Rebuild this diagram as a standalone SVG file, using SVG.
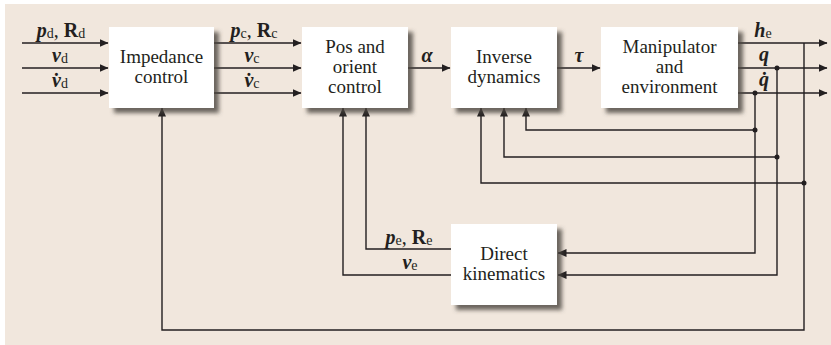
<svg xmlns="http://www.w3.org/2000/svg" width="831" height="345" viewBox="0 0 831 345">
<defs>
<style>
.bg{fill:#F1E7DD}
.box{fill:#FFFFFF;filter:url(#sh)}
.t{font-family:"Liberation Serif","Times New Roman",serif;font-size:19px;fill:#231F20;text-anchor:middle}
.m{font-family:"Liberation Serif","Times New Roman",serif;font-size:20px;fill:#231F20;text-anchor:middle}
.bi{font-weight:bold;font-style:italic}
.b{font-weight:bold}
.s{font-size:14px}
.ln{fill:none;stroke:#231F20;stroke-width:1.4}
.dot{fill:#231F20}
</style>
<filter id="sh" x="-10%" y="-10%" width="130%" height="140%">
<feDropShadow dx="5" dy="5" stdDeviation="2.2" flood-color="#4A453F" flood-opacity="0.8"/>
</filter>
<marker id="ah" markerWidth="9" markerHeight="8" refX="8.5" refY="4" orient="auto" markerUnits="userSpaceOnUse">
<path d="M0,0 L9,4 L0,8 Z" fill="#231F20"/>
</marker>
</defs>
<rect class="bg" x="5" y="4" width="826" height="341"/>

<g id="connectors">
<path class="ln" marker-end="url(#ah)" d="M22,43 H108"/>
<path class="ln" marker-end="url(#ah)" d="M22,68 H108"/>
<path class="ln" marker-end="url(#ah)" d="M22,93 H108"/>
<path class="ln" marker-end="url(#ah)" d="M214,43 H301"/>
<path class="ln" marker-end="url(#ah)" d="M214,68 H301"/>
<path class="ln" marker-end="url(#ah)" d="M214,93 H301"/>
<path class="ln" marker-end="url(#ah)" d="M408,68 H450"/>
<path class="ln" marker-end="url(#ah)" d="M557,68 H600"/>
<path class="ln" marker-end="url(#ah)" d="M738,43 H827"/>
<path class="ln" marker-end="url(#ah)" d="M738,68 H827"/>
<path class="ln" marker-end="url(#ah)" d="M738,93 H827"/>
<path class="ln" marker-end="url(#ah)" d="M755,93 V253 H558"/>
<path class="ln" marker-end="url(#ah)" d="M777,68 V275 H558"/>
<path class="ln" marker-end="url(#ah)" d="M804,43 V330 H162 V108"/>
<path class="ln" marker-end="url(#ah)" d="M755,130 H526 V108"/>
<path class="ln" marker-end="url(#ah)" d="M777,157 H504 V108"/>
<path class="ln" marker-end="url(#ah)" d="M804,183 H481 V108"/>
<path class="ln" marker-end="url(#ah)" d="M451,249 H366 V108"/>
<path class="ln" marker-end="url(#ah)" d="M451,275 H343 V108"/>
<circle class="dot" cx="755" cy="93" r="2.5"/>
<circle class="dot" cx="777" cy="68" r="2.5"/>
<circle class="dot" cx="755" cy="130" r="2.5"/>
<circle class="dot" cx="777" cy="157" r="2.5"/>
<circle class="dot" cx="804" cy="183" r="2.5"/>
<text class="m" x="61" y="37"><tspan class="bi">p</tspan><tspan class="s" dy="1">d</tspan><tspan dy="-1">, </tspan><tspan class="b">R</tspan><tspan class="s" dy="1">d</tspan></text>
<text class="m" x="60" y="62"><tspan class="bi">v</tspan><tspan class="s" dy="1">d</tspan></text>
<text class="m" x="60" y="87"><tspan class="bi">v̇</tspan><tspan class="s" dy="1">d</tspan></text>
<text class="m" x="254" y="37"><tspan class="bi">p</tspan><tspan class="s" dy="1">c</tspan><tspan dy="-1">, </tspan><tspan class="b">R</tspan><tspan class="s" dy="1">c</tspan></text>
<text class="m" x="252" y="62"><tspan class="bi">v</tspan><tspan class="s" dy="1">c</tspan></text>
<text class="m" x="252" y="87"><tspan class="bi">v̇</tspan><tspan class="s" dy="1">c</tspan></text>
<text class="m bi" x="427" y="62">α</text>
<text class="m bi" x="579" y="62">τ</text>
<text class="m" x="763" y="37"><tspan class="bi">h</tspan><tspan class="s" dy="1">e</tspan></text>
<text class="m bi" x="764" y="61">q</text>
<text class="m bi" x="764" y="86">q̇</text>
<text class="m" x="409" y="244"><tspan class="bi">p</tspan><tspan class="s" dy="1">e</tspan><tspan dy="-1">, </tspan><tspan class="b">R</tspan><tspan class="s" dy="1">e</tspan></text>
<text class="m" x="410" y="269"><tspan class="bi">v</tspan><tspan class="s" dy="1">e</tspan></text>
</g>

<g id="impedance">
<rect class="box" x="109" y="27" width="105" height="81"/>
<text class="t" x="161.5" y="63">Impedance</text>
<text class="t" x="161.5" y="83">control</text>
</g>
<g id="posorient">
<rect class="box" x="302" y="27" width="106" height="81"/>
<text class="t" x="355" y="53">Pos and</text>
<text class="t" x="355" y="73">orient</text>
<text class="t" x="355" y="93">control</text>
</g>
<g id="invdyn">
<rect class="box" x="451" y="27" width="106" height="81"/>
<text class="t" x="504" y="63">Inverse</text>
<text class="t" x="504" y="83">dynamics</text>
</g>
<g id="manipulator">
<rect class="box" x="601" y="27" width="137" height="81"/>
<text class="t" x="669.5" y="53">Manipulator</text>
<text class="t" x="669.5" y="73">and</text>
<text class="t" x="669.5" y="93">environment</text>
</g>
<g id="dirkin">
<rect class="box" x="451" y="224" width="106" height="81"/>
<text class="t" x="504" y="260">Direct</text>
<text class="t" x="504" y="280">kinematics</text>
</g>
</svg>
